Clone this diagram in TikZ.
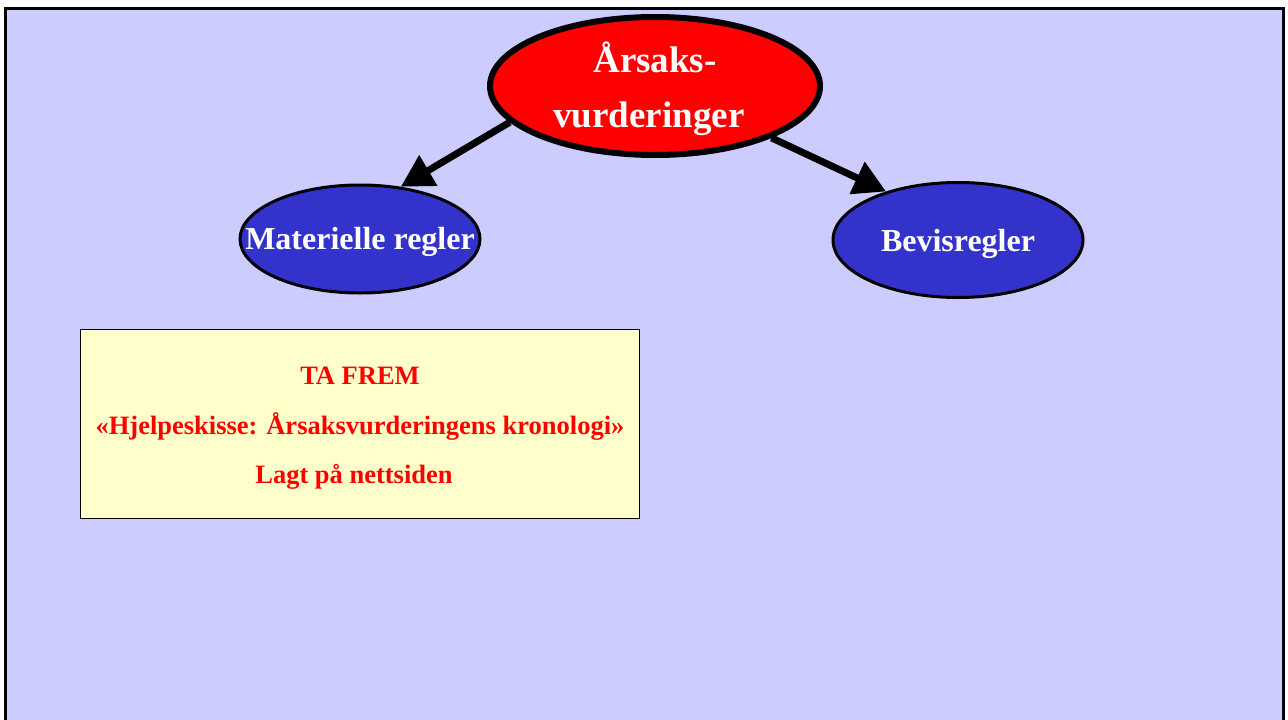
\documentclass[tikz,border=0pt]{standalone}
\usepackage{fontspec}
\setmainfont{Liberation Serif}
\usetikzlibrary{shapes.geometric,arrows.meta}
\definecolor{bgblue}{HTML}{CCCCFF}
\definecolor{ellblue}{HTML}{3333CC}
\definecolor{boxyellow}{HTML}{FFFFCC}
\tikzset{
  blueell/.style={ellipse, draw=black, line width=3pt, fill=ellblue, inner sep=0pt},
  whitetext/.style={text=white, inner sep=0pt},
  bigarrow/.style={line width=7pt, -{Triangle[length=32pt,width=34pt]}},
  redtext/.style={text=red, font=\fontsize{26.5}{30}\selectfont\bfseries, inner sep=0pt}
}
\begin{document}
\begin{tikzpicture}[x=1pt,y=-1pt]
\useasboundingbox (0,0) rectangle (1288,720);
\fill[white] (0,0) rectangle (1288,720);
\draw[line width=3pt, fill=bgblue] (5.5,8.5) rectangle (1283.5,740);
% red ellipse
\node[ellipse, draw=black, line width=6pt, fill=red, inner sep=0pt,
  minimum width=330pt, minimum height=138pt] (red) at (655,86) {};
\node[whitetext, font=\fontsize{37}{40}\selectfont\bfseries] (t1) at (655,57) {Årsaks-};
\node[whitetext, font=\fontsize{37}{40}\selectfont\bfseries] (t2) at (649,119) {vurderinger};
% blue ellipses
\node[blueell, minimum width=240pt, minimum height=108pt] (mat) at (360,239) {};
\node[whitetext, font=\fontsize{32}{38}\selectfont\bfseries] (matt) at (360,242) {Materielle regler};
\node[blueell, minimum width=250pt, minimum height=115pt] (bev) at (958,240) {};
\node[whitetext, font=\fontsize{32}{38}\selectfont\bfseries] (bevt) at (958,244) {Bevisregler};
% arrows
\draw[bigarrow] (red.194) -- (mat.52);
\draw[bigarrow] (red.336) -- (bev.146);
% yellow box
\node[draw=black, line width=1pt, fill=boxyellow, minimum width=559pt, minimum height=189pt, inner sep=0pt] (box) at (359.5,423.5) {};
\node[redtext] (l1) at (360,376) {TA FREM};
\node[redtext] (l2) at (360,426) {«Hjelpeskisse: Årsaksvurderingens kronologi»};
\node[redtext] (l3) at (354,477) {Lagt på nettsiden};
\end{tikzpicture}
\end{document}
